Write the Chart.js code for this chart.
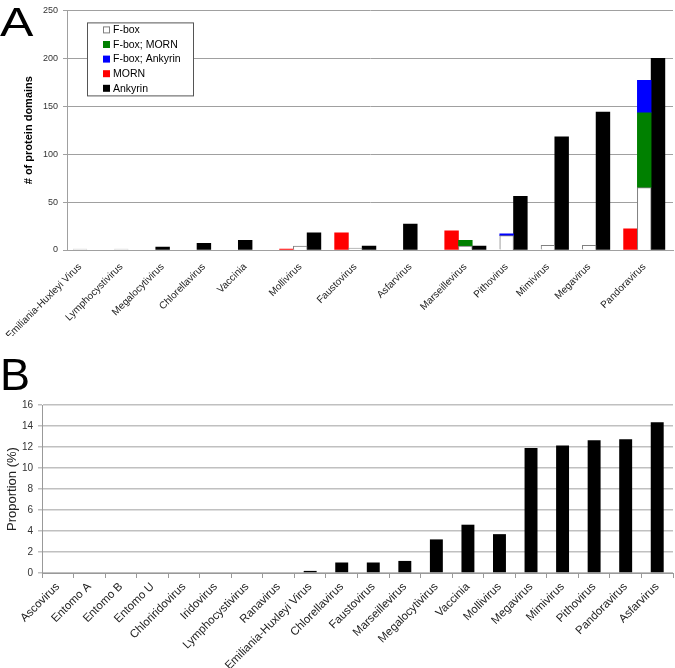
<!DOCTYPE html>
<html>
<head>
<meta charset="utf-8">
<script src="https://cdn.jsdelivr.net/npm/chart.js@4.4.1/dist/chart.umd.min.js"></script>
<style>
  body { margin: 0; background: #fff; }
  #wrap { position: relative; width: 675px; height: 668px; overflow: hidden; }
  canvas { position: absolute; left: 0; }
  .panel { position: absolute; left: 0; font-family: "Liberation Sans", Arial, sans-serif; line-height: 1; color: #000; }
</style>
</head>
<body>
<div id="wrap">
  <canvas id="chartA" width="675" height="336" style="top:0"></canvas>
  <canvas id="chartB" width="675" height="332" style="top:336px"></canvas>
  <div class="panel" style="top:2px; font-size:40px; transform:scaleX(1.25); transform-origin:0 0;">A</div>
  <div class="panel" style="top:352px; font-size:45px;">B</div>
</div>
<script>
// panel A: domain counts per virus
var virusesA = ['Emiliania-Huxleyi Virus', 'Lymphocystivirus', 'Megalocytivirus', 'Chlorellavirus', 'Vaccinia',
  'Mollivirus', 'Faustovirus', 'Asfarvirus', 'Marseillevirus', 'Pithovirus', 'Mimivirus', 'Megavirus', 'Pandoravirus']
var mornA     = [0, 0, 0, 0, 0, 1, 18, 0, 20, 0, 0, 0, 22]
var fboxA     = [1, 1, 0, 0, 0, 4, 2, 0, 4, 15, 5, 5, 65]
var fboxMornA = [0, 0, 0, 0, 0, 0, 0, 0, 6, 0, 0, 0, 78]
var fboxAnkA  = [0, 0, 0, 0, 0, 0, 0, 0, 0, 2, 0, 0, 34]
var ankyrinA  = [0, 0, 3, 7, 10, 18, 4, 27, 4, 56, 118, 144, 200]

// panel B: proportion (%)
var virusesB = ['Ascovirus', 'Entomo A', 'Entomo B', 'Entomo U', 'Chloriridovirus', 'Iridovirus', 'Lymphocystivirus',
  'Ranavirus', 'Emiliania-Huxleyi Virus', 'Chlorellavirus', 'Faustovirus', 'Marseillevirus', 'Megalocytivirus',
  'Vaccinia', 'Mollivirus', 'Megavirus', 'Mimivirus', 'Pithovirus', 'Pandoravirus', 'Asfarvirus']
var proportionB = [0, 0, 0, 0, 0, 0, 0, 0, 0.2, 1.0, 1.0, 1.15, 3.2, 4.6, 3.7, 11.9, 12.15, 12.65, 12.75, 14.35]

// layout of panel A: bar column of the F-box stack for each virus,
// MORN sits one column left of it, Ankyrin one column right
var fboxCol = [0, 3, 5, 8, 11, 16, 20, 23, 28, 31, 34, 37, 41]

Chart.defaults.font.family = '"Liberation Sans", Arial, sans-serif'
Chart.defaults.color = '#333'

function pts(values, shift) {
  var out = []
  values.forEach((v, i) => { if (v) out.push({x: fboxCol[i] + shift, y: v}) })
  return out
}
// label goes under the F-box column, or under the Ankyrin bar when there is no F-box bar
var labelCol = {}
virusesA.forEach((name, i) => {
  var c = (fboxA[i] || mornA[i]) ? fboxCol[i] : fboxCol[i] + 1
  labelCol[c] = name
})

const legendBox = {
  id: 'legendBox',
  afterDraw(chart) {
    const {ctx, chartArea} = chart
    const x = chartArea.left + 20, y = chartArea.top + 12, w = 106, h = 73
    ctx.save()
    ctx.fillStyle = '#fff'
    ctx.fillRect(x, y, w, h)
    ctx.strokeStyle = '#555'
    ctx.lineWidth = 1
    ctx.strokeRect(x + 0.5, y + 0.5, w, h)
    ctx.font = '10.5px "Liberation Sans", Arial, sans-serif'
    ctx.textBaseline = 'middle'
    chart.data.datasets.forEach((ds, i) => {
      const cy = y + 7.5 + i * 14.6
      ctx.fillStyle = ds.backgroundColor
      ctx.fillRect(x + 16, cy - 3.5, 7, 7)
      if (ds.borderWidth) {
        ctx.strokeStyle = ds.borderColor
        ctx.strokeRect(x + 16.5, cy - 3, 6, 6)
      }
      ctx.fillStyle = '#000'
      ctx.fillText(ds.label, x + 26, cy + 0.5)
    })
    ctx.restore()
  }
}

const chartA = new Chart(document.getElementById('chartA'), {
  type: 'bar',
  data: {
    datasets: [
      {label: 'F-box', data: pts(fboxA, 0), backgroundColor: '#ffffff', borderColor: '#808080', borderWidth: 1},
      {label: 'F-box; MORN', data: pts(fboxMornA, 0), backgroundColor: '#008000', borderWidth: 0},
      {label: 'F-box; Ankyrin', data: pts(fboxAnkA, 0), backgroundColor: '#0000ff', borderWidth: 0},
      {label: 'MORN', data: pts(mornA, -1), backgroundColor: '#ff0000', borderWidth: 0},
      {label: 'Ankyrin', data: pts(ankyrinA, 1), backgroundColor: '#000000', borderWidth: 0}
    ]
  },
  options: {
    responsive: false,
    animation: false,
    layout: {padding: {top: 10, right: 2, bottom: 0, left: 0}},
    datasets: {bar: {barPercentage: 1, categoryPercentage: 1, stack: 'a'}},
    plugins: {legend: {display: false}, tooltip: {enabled: false}},
    scales: {
      x: {
        type: 'linear', stacked: true, bounds: 'data', offset: false,
        min: -0.95, max: 43.09,
        grid: {display: false},
        border: {display: true, color: '#a0a0a0', width: 1},
        afterBuildTicks: (s) => { s.ticks = Object.keys(labelCol).map(c => ({value: +c})) },
        afterFit: (s) => { s.height = 86; s.paddingLeft = 0; s.paddingRight = 0 },
        ticks: {
          autoSkip: false, minRotation: 45, maxRotation: 45, padding: 3,
          color: '#222', font: {size: 10},
          callback: (v) => labelCol[v] || ''
        }
      },
      y: {
        stacked: true, min: 0, max: 250,
        grid: {color: '#a0a0a0', lineWidth: 1, tickLength: 4},
        border: {color: '#a0a0a0'},
        afterFit: (s) => { s.width = 67 },
        ticks: {stepSize: 50, padding: 5, color: '#333', font: {size: 9}},
        title: {display: true, text: '# of protein domains', color: '#000',
          font: {size: 11, weight: 'bold'}, padding: {top: 22, bottom: 0}}
      }
    }
  },
  plugins: [legendBox]
})

const chartB = new Chart(document.getElementById('chartB'), {
  type: 'bar',
  data: {
    labels: virusesB,
    datasets: [{label: 'Proportion (%)', data: proportionB, backgroundColor: '#000000', borderWidth: 0}]
  },
  options: {
    responsive: false,
    animation: false,
    layout: {padding: {top: 69, right: 2, bottom: 0, left: 0}},
    datasets: {bar: {barPercentage: 0.41, categoryPercentage: 1}},
    plugins: {legend: {display: false}, tooltip: {enabled: false}},
    scales: {
      x: {
        grid: {display: true, drawOnChartArea: false, tickLength: 5, color: '#999'},
        border: {color: '#999'},
        afterFit: (s) => { s.height = 95; s.paddingLeft = 0; s.paddingRight = 0 },
        ticks: {autoSkip: false, minRotation: 45, maxRotation: 45, padding: 2, color: '#222', font: {size: 11.5}}
      },
      y: {
        min: 0, max: 16,
        grid: {color: '#c0c0c0', lineWidth: 1.5, tickLength: 4},
        border: {color: '#999'},
        afterFit: (s) => { s.width = 42 },
        ticks: {stepSize: 2, padding: 5, color: '#333', font: {size: 10}},
        title: {display: true, text: 'Proportion (%)', color: '#222', font: {size: 13}, padding: {top: 5, bottom: 0}}
      }
    }
  }
})
</script>
</body>
</html>
